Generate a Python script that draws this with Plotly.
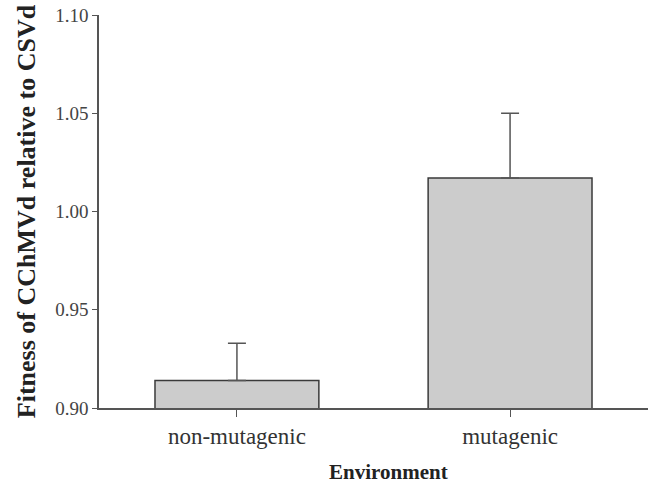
import plotly.graph_objects as go

categories = ["non-mutagenic", "mutagenic"]
fitness = [0.914, 1.017]
error_upper = [0.019, 0.033]
error_lower = [0.0, 0.0]
y_ticks = [0.90, 0.95, 1.00, 1.05, 1.10]

serif = "Liberation Serif, Times New Roman, serif"

fig = go.Figure()
fig.add_trace(go.Bar(
    x=categories,
    y=fitness,
    width=0.6,
    marker=dict(color="#cccccc", line=dict(color="#3a3a3a", width=1.5)),
    error_y=dict(type="data", symmetric=False, array=error_upper,
                 arrayminus=error_lower, color="#555555", thickness=1.5, width=9),
))

fig.update_layout(
    width=652, height=487,
    margin=dict(l=99, r=4, t=15, b=79),
    plot_bgcolor="white", paper_bgcolor="white",
    showlegend=False,
    font=dict(family=serif, color="#333333"),
    annotations=[dict(
        text="<b>Environment</b>", xref="paper", yref="paper",
        x=0.528, y=0, xanchor="center", yanchor="top", yshift=-50,
        showarrow=False, font=dict(family=serif, size=21, color="#222222"),
    )],
)
fig.update_xaxes(
    range=[-0.505, 1.505],
    showline=True, linecolor="#555555", linewidth=1.5,
    ticks="outside", ticklen=7, tickcolor="#555555", tickwidth=1.2,
    tickfont=dict(family=serif, size=23, color="#333333"),
    showgrid=False,
)
fig.update_yaxes(
    range=[0.90, 1.10],
    tickvals=y_ticks, tickformat=".2f",
    showline=True, linecolor="#555555", linewidth=1.5,
    ticks="outside", ticklen=5, tickcolor="#555555", tickwidth=1.2,
    tickfont=dict(family=serif, size=19, color="#444444"),
    showgrid=False, zeroline=False,
    title=dict(text="<b>Fitness of CChMVd relative to CSVd</b>", font=dict(family=serif, size=26, color="#222222"), standoff=12),
)

fig.write_html("out.html")
